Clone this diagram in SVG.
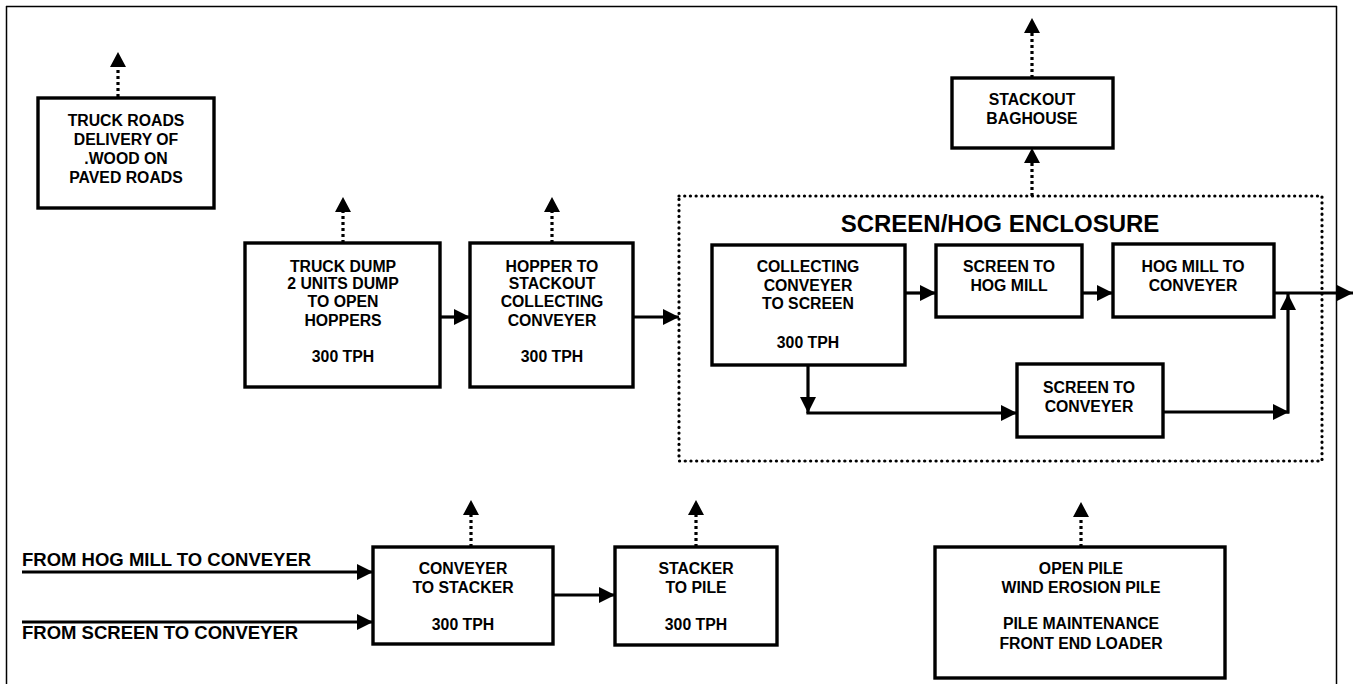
<svg xmlns="http://www.w3.org/2000/svg" width="1354" height="684" viewBox="0 0 1354 684">
<defs>
<style>
.box{fill:#fff;stroke:#000;stroke-width:3.4}
.t{font-family:"Liberation Sans",Arial,sans-serif;font-weight:bold;font-size:15.8px;fill:#000;text-anchor:middle}
.title{font-family:"Liberation Sans",Arial,sans-serif;font-weight:bold;font-size:24px;fill:#000;text-anchor:middle}
.lbl{font-family:"Liberation Sans",Arial,sans-serif;font-weight:bold;font-size:18.5px;fill:#000}
.sol{fill:none;stroke:#000;stroke-width:3.2;marker-end:url(#ah)}
.dot{fill:none;stroke:#000;stroke-width:3.2;stroke-dasharray:3 3;marker-end:url(#dh)}
.encl{fill:none;stroke:#000;stroke-width:3.2;stroke-linecap:round;stroke-dasharray:0.1 5.6}
.frame{fill:none;stroke:#000;stroke-width:1.5}
</style>
<marker id="ah" markerUnits="userSpaceOnUse" markerWidth="17" markerHeight="17" refX="16" refY="8" orient="auto">
<path d="M0,0 L16,8 L0,16 z" fill="#000"/>
</marker>
<marker id="dh" markerUnits="userSpaceOnUse" markerWidth="17" markerHeight="17" refX="0" refY="8" orient="auto">
<path d="M0,0 L15,8 L0,16 z" fill="#000"/>
</marker>
</defs>
<g id="frame">
<line class="frame" x1="6" y1="6.5" x2="1337" y2="6.5"/>
<line class="frame" x1="6.5" y1="6" x2="6.5" y2="684"/>
<line class="frame" x1="1336.5" y1="6" x2="1336.5" y2="684"/>
</g>
<g id="enclosure">
<rect class="encl" x="679" y="196" width="643" height="265"/>
<text class="title" x="1000" y="232">SCREEN/HOG ENCLOSURE</text>
</g>
<g id="connectors">
<line class="sol" x1="440" y1="317" x2="470" y2="317"/>
<line class="sol" x1="633" y1="317" x2="679" y2="317"/>
<line class="sol" x1="905" y1="293" x2="936" y2="293"/>
<line class="sol" x1="1082" y1="293" x2="1113" y2="293"/>
<line class="sol" x1="1274" y1="293" x2="1353" y2="293"/>
<line class="sol" x1="808" y1="365" x2="808" y2="413"/>
<line class="sol" x1="806.4" y1="413" x2="1017" y2="413"/>
<line class="sol" x1="1163" y1="412" x2="1289" y2="412"/>
<line class="sol" x1="1288" y1="413.6" x2="1288" y2="294"/>
<line class="sol" x1="22" y1="572" x2="373" y2="572"/>
<line class="sol" x1="22" y1="622" x2="373" y2="622"/>
<line class="sol" x1="553" y1="595" x2="615" y2="595"/>
<line class="dot" x1="118" y1="97" x2="118" y2="67"/>
<line class="dot" x1="343" y1="243" x2="343" y2="212"/>
<line class="dot" x1="552" y1="243" x2="552" y2="212"/>
<line class="dot" x1="1032" y1="78" x2="1032" y2="33"/>
<line class="dot" x1="1032" y1="196" x2="1032" y2="163"/>
<line class="dot" x1="471" y1="547" x2="471" y2="515"/>
<line class="dot" x1="696" y1="547" x2="696" y2="515"/>
<line class="dot" x1="1081" y1="547" x2="1081" y2="517"/>
</g>
<g id="truck-roads">
<rect class="box" x="38" y="98" width="176" height="110"/>
<text class="t" x="126" y="125.5">TRUCK ROADS</text>
<text class="t" x="126" y="144.5">DELIVERY OF</text>
<text class="t" x="126" y="163.5">.WOOD ON</text>
<text class="t" x="126" y="182.5">PAVED ROADS</text>
</g>
<g id="truck-dump">
<rect class="box" x="245" y="243" width="195" height="144"/>
<text class="t" x="343" y="272">TRUCK DUMP</text>
<text class="t" x="343" y="289">2 UNITS DUMP</text>
<text class="t" x="343" y="307">TO OPEN</text>
<text class="t" x="343" y="325.5">HOPPERS</text>
<text class="t" x="343" y="362">300 TPH</text>
</g>
<g id="hopper">
<rect class="box" x="470" y="243" width="163" height="144"/>
<text class="t" x="552" y="272">HOPPER TO</text>
<text class="t" x="552" y="289">STACKOUT</text>
<text class="t" x="552" y="307">COLLECTING</text>
<text class="t" x="552" y="325.5">CONVEYER</text>
<text class="t" x="552" y="362">300 TPH</text>
</g>
<g id="baghouse">
<rect class="box" x="952" y="78" width="161" height="70"/>
<text class="t" x="1032" y="104.5">STACKOUT</text>
<text class="t" x="1032" y="123.5">BAGHOUSE</text>
</g>
<g id="collecting">
<rect class="box" x="712" y="245" width="193" height="120"/>
<text class="t" x="808" y="271.5">COLLECTING</text>
<text class="t" x="808" y="290.5">CONVEYER</text>
<text class="t" x="808" y="308.5">TO SCREEN</text>
<text class="t" x="808" y="347.5">300 TPH</text>
</g>
<g id="screen-hog">
<rect class="box" x="936" y="245" width="146" height="72"/>
<text class="t" x="1009" y="271.5">SCREEN TO</text>
<text class="t" x="1009" y="290.5">HOG MILL</text>
</g>
<g id="hog-mill">
<rect class="box" x="1113" y="244" width="161" height="73"/>
<text class="t" x="1193" y="271.5">HOG MILL TO</text>
<text class="t" x="1193" y="290.5">CONVEYER</text>
</g>
<g id="screen-conveyer">
<rect class="box" x="1017" y="364" width="146" height="73"/>
<text class="t" x="1089" y="392.5">SCREEN TO</text>
<text class="t" x="1089" y="411.5">CONVEYER</text>
</g>
<g id="inputs">
<text class="lbl" x="22" y="566">FROM HOG MILL TO CONVEYER</text>
<text class="lbl" x="22" y="639">FROM SCREEN TO CONVEYER</text>
</g>
<g id="conveyer-stacker">
<rect class="box" x="373" y="547" width="180" height="97"/>
<text class="t" x="463" y="573.5">CONVEYER</text>
<text class="t" x="463" y="592.5">TO STACKER</text>
<text class="t" x="463" y="629.5">300 TPH</text>
</g>
<g id="stacker-pile">
<rect class="box" x="615" y="547" width="162" height="98"/>
<text class="t" x="696" y="573.5">STACKER</text>
<text class="t" x="696" y="592.5">TO PILE</text>
<text class="t" x="696" y="629.5">300 TPH</text>
</g>
<g id="open-pile">
<rect class="box" x="935" y="547" width="290" height="131"/>
<text class="t" x="1081" y="573.5">OPEN PILE</text>
<text class="t" x="1081" y="592.5">WIND EROSION PILE</text>
<text class="t" x="1081" y="628.5">PILE MAINTENANCE</text>
<text class="t" x="1081" y="648.5">FRONT END LOADER</text>
</g>
</svg>
